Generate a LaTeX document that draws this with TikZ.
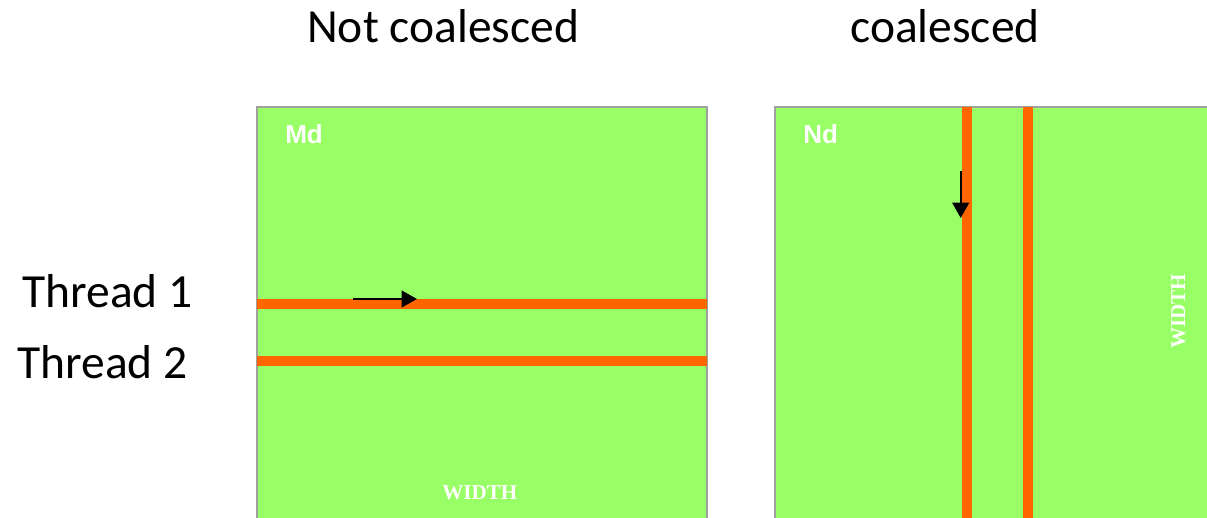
\documentclass[tikz,border=0pt]{standalone}
\usepackage{fontspec}
\setmainfont{Carlito}
\newfontfamily\labelfont{Liberation Sans}
\newfontfamily\widthfont{Liberation Serif}
\usetikzlibrary{arrows.meta, positioning}

\definecolor{matgreen}{HTML}{99FF66}
\definecolor{rowrange}{HTML}{FF6600}
\definecolor{matborder}{HTML}{A0A0A0}

\begin{document}
\begin{tikzpicture}[x=0.025cm, y=-0.025cm,
    matbox/.style={fill=matgreen, draw=matborder, line width=1pt},
    stripe/.style={draw=rowrange, line width=7.1pt},
    walk/.style={-{Triangle[length=11pt, width=12pt]}, line width=1.4pt},
    heading/.style={anchor=base west, inner sep=0pt, font=\fontsize{33.8}{36}\selectfont},
    matname/.style={anchor=base west, inner sep=0pt, text=white, font=\labelfont\bfseries\fontsize{18.5}{20}\selectfont},
    dimname/.style={inner sep=0pt, text=white, font=\widthfont\bfseries\fontsize{15}{17}\selectfont}]
  \useasboundingbox (0,0) rectangle (1207,518);
  \clip (0,0) rectangle (1207,518);

  % matrices
  \draw[matbox] (257,107) rectangle (707,560);
  \draw[matbox] (775,107) rectangle (1260,560);

  % access rows / columns
  \coordinate (row1w) at (257,304);
  \coordinate (row1e) at (707,304);
  \coordinate (row2w) at (257,361);
  \coordinate (row2e) at (707,361);
  \coordinate (col1n) at (966.5,107);
  \coordinate (col1s) at (966.5,560);
  \coordinate (col2n) at (1027.5,107);
  \coordinate (col2s) at (1027.5,560);
  \draw[stripe] (row1w) -- (row1e);
  \draw[stripe] (row2w) -- (row2e);
  \draw[stripe] (col1n) -- (col1s);
  \draw[stripe] (col2n) -- (col2s);

  % labels
  \node[heading] (notco) at (307,43) {Not coalesced};
  \node[heading] (co) at (850,43) {coalesced};
  \node[heading] (thr1) at (22,307) {Thread 1};
  \node[heading] (thr2) at (17,378) {Thread 2};
  \node[matname] (md) at (285,144) {Md};
  \node[matname] (nd) at (803,144) {Nd};
  \node[dimname, anchor=base west] (mdw) at (442,499) {WIDTH};
  \node[dimname, anchor=base west, rotate=90] (ndw) at (1185,349) {WIDTH};

  % direction of access
  \coordinate (go1) at (353,299);
  \coordinate (to1) at (417,299);
  \coordinate (go2) at (960.7,171);
  \coordinate (to2) at (960.7,218);
  \draw[walk] (go1) -- (to1);
  \draw[walk] (go2) -- (to2);
\end{tikzpicture}
\end{document}
